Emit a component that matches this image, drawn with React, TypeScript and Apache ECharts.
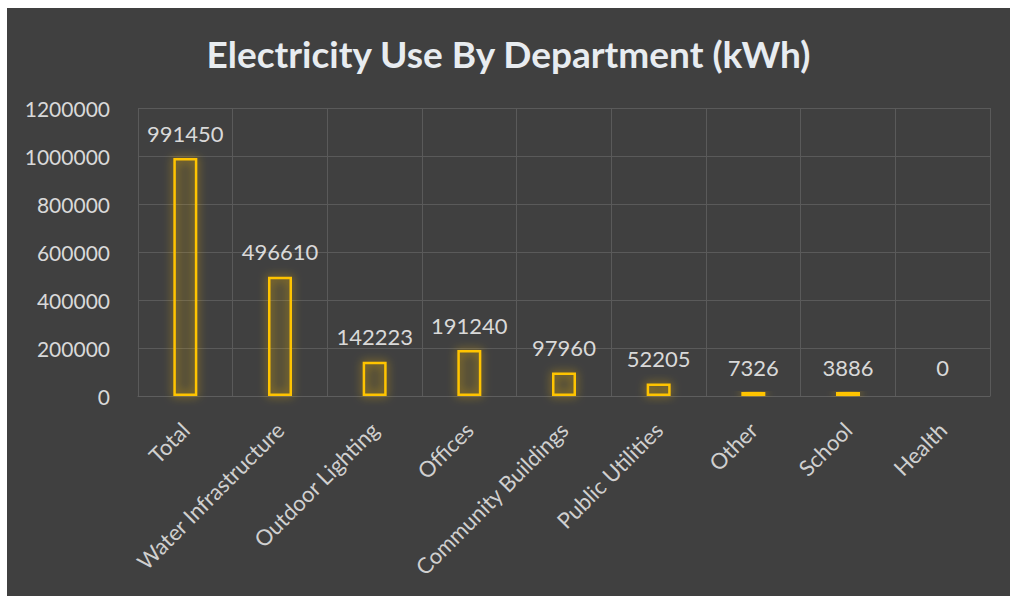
import React, { useEffect, useRef } from "react";
import * as echarts from "echarts";

const categories = [
  "Total",
  "Water Infrastructure",
  "Outdoor Lighting",
  "Offices",
  "Community Buildings",
  "Public Utilities",
  "Other",
  "School",
  "Health",
];
const values = [991450, 496610, 142223, 191240, 97960, 52205, 7326, 3886, 0];
const yTicks = { min: 0, max: 1200000, interval: 200000 };

const FONT = "Lato, 'Open Sans', sans-serif";
const TEXT = "#d9d9d9";

export default function App() {
  const ref = useRef<HTMLDivElement>(null);
  useEffect(() => {
    if (!ref.current) return;
    const chart = echarts.init(ref.current, undefined, { renderer: "svg" });
    const hidden = {
      color: "transparent",
      borderWidth: 0,
      shadowBlur: 0,
      shadowColor: "transparent",
    };
    chart.setOption({
      animation: false,
      backgroundColor: "#404040",
      title: {
        text: "Electricity Use By Department (kWh)",
        left: "center",
        top: 22,
        textStyle: {
          color: "#e8ecf0",
          fontFamily: FONT,
          fontWeight: "bold",
          fontSize: 37,
        },
      },
      grid: { left: 131, right: 20, top: 100, bottom: 200, containLabel: false },
      xAxis: {
        type: "category",
        data: categories,
        axisLine: { show: true, lineStyle: { color: "#5e5e5e" } },
        axisTick: { show: false },
        splitLine: { show: true, lineStyle: { color: "#5a5a5a", width: 1 } },
        axisLabel: {
          rotate: 45,
          margin: 30,
          interval: 0,
          color: "#d0d0d0",
          fontFamily: FONT,
          fontSize: 22,
        },
      },
      yAxis: {
        type: "value",
        min: yTicks.min,
        max: yTicks.max,
        interval: yTicks.interval,
        axisLine: { show: false },
        axisTick: { show: false },
        splitLine: { show: true, lineStyle: { color: "#5a5a5a", width: 1 } },
        axisLabel: {
          margin: 28,
          color: TEXT,
          fontFamily: FONT,
          fontSize: 21,
          formatter: (v: number) => String(v),
        },
      },
      series: [
        {
          type: "bar",
          data: values.map((v) => (v === 0 ? { value: v, itemStyle: hidden } : v)),
          barWidth: 24,
          barMinHeight: 4,
          itemStyle: {
            color: "rgba(255,192,0,0.07)",
            borderColor: "#ffc400",
            borderWidth: 2.5,
            shadowBlur: 10,
            shadowColor: "rgba(255,192,0,0.7)",
          },
          label: {
            show: true,
            position: "top",
            distance: 14,
            color: TEXT,
            fontFamily: FONT,
            fontSize: 22,
          },
        },
      ],
    });
    return () => chart.dispose();
  }, []);
  return (
    <div
      ref={ref}
      style={{ position: "fixed", left: 7, top: 8, width: 1003, height: 588 }}
    />
  );
}
